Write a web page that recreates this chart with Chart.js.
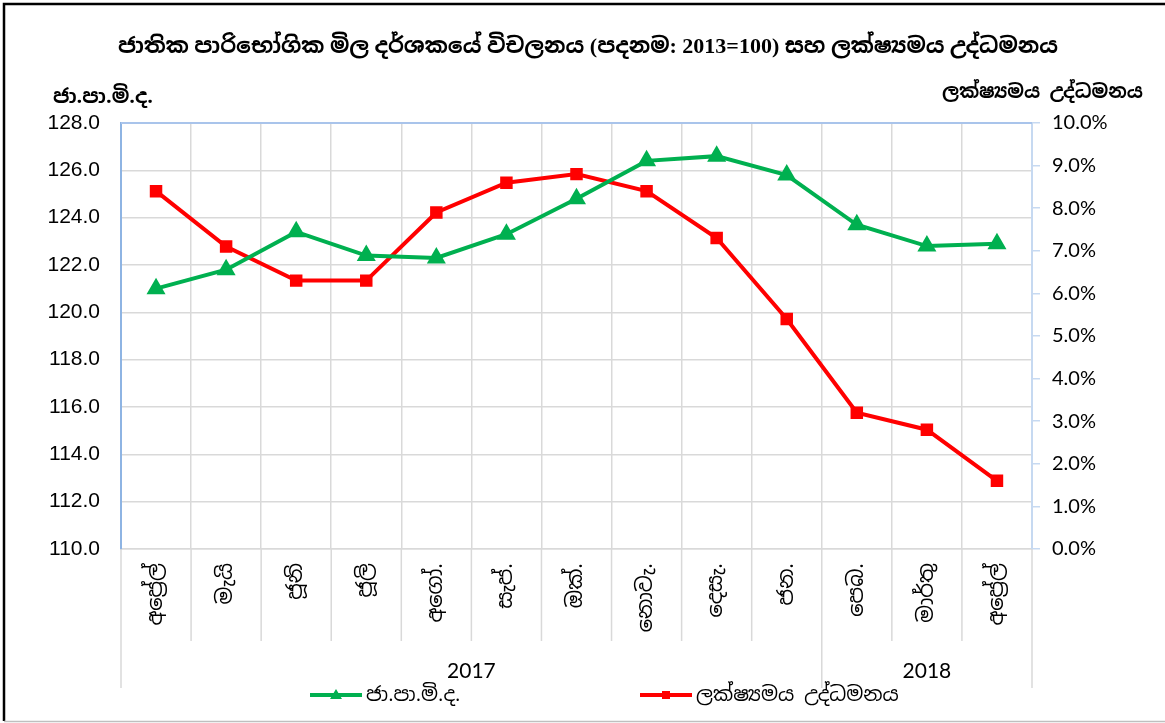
<!DOCTYPE html>
<html>
<head>
<meta charset="utf-8">
<script src="https://cdn.jsdelivr.net/npm/chart.js@4.4.1/dist/chart.umd.min.js"></script>
<style>
html,body{margin:0;padding:0;background:#fff;}
#wrap{width:1165px;height:723px;position:relative;}
</style>
</head>
<body>
<div id="wrap"><canvas id="c" width="1165" height="723"></canvas></div>
<script>
// ---- data ----
const months = ['අප්‍රේල්','මැයි','ජූනි','ජූලි','අගෝ.','සැප්.','ඔක්.','නොවැ.','දෙසැ.','ජන.','පෙබ.','මාර්තු','අප්‍රේල්'];
const ccpi = [121.0,121.8,123.4,122.4,122.3,123.3,124.8,126.4,126.6,125.8,123.7,122.8,122.9];
const inflation = [8.4,7.1,6.3,6.3,7.9,8.6,8.8,8.4,7.3,5.4,3.2,2.8,1.6];
const yearGroups = [{label:'2017', from:0, to:9},{label:'2018', from:10, to:12}];
const seriesNames = ['ජා.පා.මි.ද.','ලක්ෂ්‍යමය උද්ධමනය'];
const titleText = 'ජාතික පාරිභෝගික මිල දර්ශකයේ විචලනය (පදනම: 2013=100) සහ ලක්ෂ්‍යමය උද්ධමනය';
const leftAxisTitle = 'ජා.පා.මි.ද.';
const rightAxisTitle = 'ලක්ෂ්‍යමය උද්ධමනය';

const GREEN = '#00b050', RED = '#ff0000', GRID = '#d9d9d9';
const SIN = "'Noto Sans Sinhala','Iskoola Pota','Noto Sans',sans-serif";

const decor = {
  id:'decor',
  beforeDraw(chart){
    const ctx = chart.ctx;
    ctx.save();
    ctx.fillStyle='#fff';
    ctx.fillRect(0,0,chart.width,chart.height);
    ctx.restore();
  },
  afterDraw(chart){
    const ctx = chart.ctx, a = chart.chartArea;
    ctx.save();
    // frame
    ctx.strokeStyle='#000'; ctx.lineWidth=2.5;
    ctx.beginPath(); ctx.moveTo(4,721); ctx.lineTo(4,4); ctx.lineTo(1165,4); ctx.stroke();
    ctx.strokeStyle='#bfbfbf'; ctx.lineWidth=1.5;
    ctx.beginPath(); ctx.moveTo(4,721.5); ctx.lineTo(1165,721.5); ctx.stroke();
    // top border of plot
    ctx.strokeStyle='#a9c4eb'; ctx.lineWidth=2;
    ctx.beginPath(); ctx.moveTo(a.left,a.top); ctx.lineTo(a.right,a.top); ctx.stroke();
    // category separators below plot
    const n = months.length;
    const step = (a.right-a.left)/n;
    ctx.strokeStyle=GRID; ctx.lineWidth=1.5;
    for(let k=0;k<=n;k++){
      const px = a.left + k*step;
      ctx.beginPath(); ctx.moveTo(px,a.bottom); ctx.lineTo(px,641); ctx.stroke();
    }
    const seps = new Set([0,n]);
    yearGroups.forEach(g=>{seps.add(g.from); seps.add(g.to+1);});
    seps.forEach(k=>{
      const px = a.left + k*step;
      ctx.beginPath(); ctx.moveTo(px,641); ctx.lineTo(px,688); ctx.stroke();
    });
    // year labels
    ctx.fillStyle='#000'; ctx.font="21px Lato"; ctx.textAlign='center'; ctx.textBaseline='middle';
    yearGroups.forEach(g=>{
      const cx = a.left + (g.from + g.to + 1)/2*step;
      ctx.fillText(g.label, cx, 671);
    });
    // title
    ctx.font="bold 22px 'Liberation Serif', "+SIN;
    ctx.fillText(titleText, 588, 47);
    // axis titles
    ctx.font="bold 20px "+SIN;
    ctx.textAlign='left';
    ctx.fillText(leftAxisTitle, 53, 97);
    ctx.font="bold 19px "+SIN;
    ctx.textAlign='right';
    ctx.fillText(rightAxisTitle, 1143, 93);
    // legend
    const items = [
      {x:310, color:GREEN, style:'triangle', name:seriesNames[0]},
      {x:640, color:RED, style:'rect', name:seriesNames[1]}
    ];
    items.forEach(it=>{
      const ly = 695;
      ctx.strokeStyle=it.color; ctx.lineWidth=4;
      ctx.beginPath(); ctx.moveTo(it.x,ly); ctx.lineTo(it.x+52,ly); ctx.stroke();
      ctx.fillStyle=it.color;
      const cx = it.x+26;
      if(it.style==='triangle'){
        ctx.beginPath(); ctx.moveTo(cx,ly-6); ctx.lineTo(cx+6,ly+4); ctx.lineTo(cx-6,ly+4); ctx.closePath(); ctx.fill();
      } else {
        ctx.fillRect(cx-4,ly-4,8,8);
      }
      ctx.fillStyle='#000'; ctx.font="20px "+SIN; ctx.textAlign='left'; ctx.textBaseline='middle';
      ctx.fillText(it.name, it.x+56, ly);
    });
    ctx.restore();
  }
};

new Chart(document.getElementById('c'), {
  type:'line',
  data:{
    labels: months,
    datasets:[
      {label:seriesNames[0], data:ccpi, yAxisID:'y', borderColor:GREEN, backgroundColor:GREEN,
       borderWidth:4, pointStyle:'triangle', pointRadius:7, pointHoverRadius:7, tension:0},
      {label:seriesNames[1], data:inflation, yAxisID:'y1', borderColor:RED, backgroundColor:RED,
       borderWidth:4, pointStyle:'rect', pointRadius:6, pointHoverRadius:6, tension:0}
    ]
  },
  options:{
    responsive:false, animation:false, devicePixelRatio:1,
    layout:{padding:{top:123, left:0, right:0, bottom:0}},
    plugins:{legend:{display:false}, title:{display:false}, tooltip:{enabled:false}},
    scales:{
      x:{
        offset:true,
        grid:{offset:true, color:GRID, lineWidth:1.5, drawTicks:false},
        border:{color:GRID, width:1.5},
        ticks:{minRotation:90, maxRotation:90, autoSkip:false, padding:14, color:'#000', font:{family:SIN, size:21}},
        afterFit(s){ s.height = 723-549; }
      },
      y:{
        position:'left', min:110, max:128,
        ticks:{stepSize:2, padding:21, color:'#000', font:{family:"'Liberation Sans'", size:21},
               callback:v=>v.toFixed(1)},
        grid:{color:GRID, lineWidth:1.5, drawTicks:false},
        border:{color:'#8eb4e3', width:2},
        afterFit(s){ s.width = 121; }
      },
      y1:{
        position:'right', min:0, max:10,
        ticks:{stepSize:1, padding:12, color:'#000', font:{family:'Lato', size:20},
               callback:v=>v.toFixed(1)+'%'},
        grid:{drawOnChartArea:false, color:'#c6d9f1', lineWidth:1.5, tickLength:8},
        border:{color:'#c6d9f1', width:2},
        afterFit(s){ s.width = 1165-1032; }
      }
    }
  },
  plugins:[decor]
});
</script>
</body>
</html>
